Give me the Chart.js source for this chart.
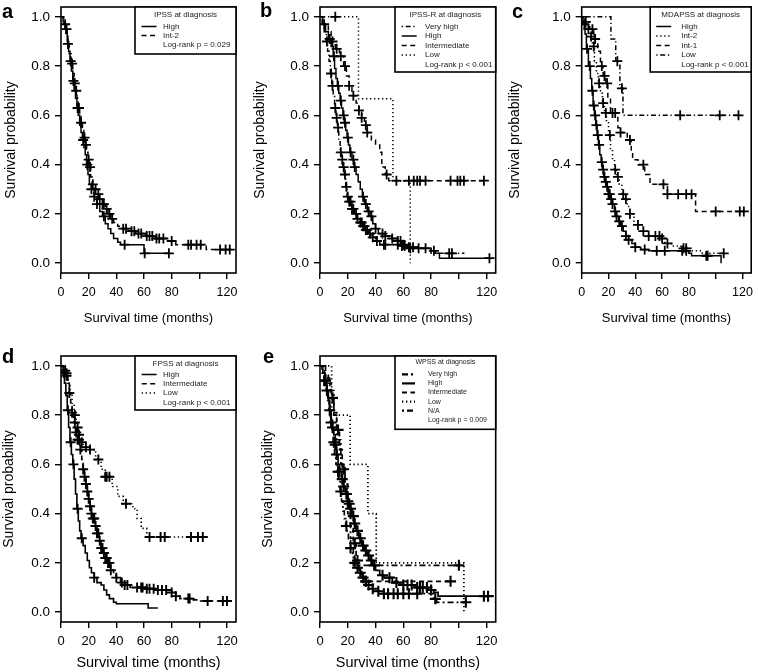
<!DOCTYPE html>
<html lang="en">
<head>
<meta charset="UTF-8">
<title>Survival by prognostic score at diagnosis</title>
<script src="https://cdn.jsdelivr.net/npm/chart.js@4.4.0/dist/chart.umd.min.js"></script>
<style>
  body { margin: 0; background: #fff; font-family: "Liberation Sans", Arial, sans-serif; }
  #fig { position: relative; width: 758px; height: 672px; overflow: hidden; background: #fff; }
  #fig canvas { position: absolute; }
  .tag { position: absolute; font-weight: bold; font-size: 20px; line-height: 20px; color: #000; }
</style>
</head>
<body>
<div id="fig">
  <canvas id="pa" width="250" height="330" style="left:0;top:0"></canvas>
  <canvas id="pb" width="260" height="330" style="left:250px;top:0"></canvas>
  <canvas id="pc" width="253" height="330" style="left:505px;top:0"></canvas>
  <canvas id="pd" width="250" height="342" style="left:0;top:330px"></canvas>
  <canvas id="pe" width="260" height="342" style="left:250px;top:330px"></canvas>
  <div class="tag" style="left:2px;top:1px">a</div>
  <div class="tag" style="left:260px;top:0">b</div>
  <div class="tag" style="left:512px;top:1px">c</div>
  <div class="tag" style="left:2px;top:346px">d</div>
  <div class="tag" style="left:263px;top:346px">e</div>
</div>

<script>
// axis ticks (100 has a tick mark but no label, as in the original)
const xTickValues = [0, 20, 40, 60, 80, 100, 120];
const xTickLabels = ['0', '20', '40', '60', '80', '', '120'];
const yTickValues = [0, 0.2, 0.4, 0.6, 0.8, 1.0];
const yTickLabels = ['0.0', '0.2', '0.4', '0.6', '0.8', '1.0'];

// KM steps are [months, survival after that time]; censor arrays are months only

// a - IPSS
const aHighSteps = [[0,1],[1.5,0.98],[3,0.95],[4.5,0.9],[5.5,0.86],[6.5,0.82],[7.5,0.78],[8.5,0.74],[9.5,0.7],[10.5,0.67],[11.5,0.63],[12.5,0.6],[13.5,0.56],[14.5,0.53],[15.5,0.5],[16.5,0.47],[17.5,0.44],[18.5,0.4],[19.5,0.36],[20.5,0.32],[22,0.3],[24,0.27],[26,0.24],[28,0.21],[30,0.19],[32,0.16],[34,0.14],[36,0.12],[38,0.1],[41,0.085],[43,0.075],[60,0.04],[78,0.04]];
const aHighCensor = [4,7,9,12,16,19,22,24,26,31,46,60.5,78];
const aInt2Steps = [[0,1],[2,0.97],[3.5,0.93],[5,0.89],[6,0.85],[7.5,0.81],[8.5,0.77],[9.5,0.73],[10.5,0.7],[11.5,0.67],[12.5,0.63],[13.5,0.6],[14.5,0.57],[15.5,0.54],[16.5,0.51],[17.5,0.48],[18.5,0.45],[19.5,0.42],[20.5,0.39],[21.5,0.35],[22.5,0.32],[24,0.3],[26,0.28],[28,0.26],[30,0.24],[32,0.22],[34,0.2],[36,0.18],[38,0.165],[41,0.15],[45,0.14],[49,0.13],[54,0.12],[61,0.11],[68,0.1],[77,0.09],[83,0.075],[105,0.055],[123,0.055]];
const aInt2Censor = [3,5,8,10,11,13,14.5,17,18,20,21,23,25,27,28,30,31,33,35,37,45,47,51,53,56,58,62,64,66,69,71,74,80,92,94,98,101,115,119,122];

// b - IPSS-R
const bVeryHighSteps = [[0,1],[1.5,0.97],[3,0.94],[4.5,0.9],[5.5,0.86],[6.5,0.82],[7.5,0.77],[8.5,0.72],[9.5,0.68],[10.5,0.63],[11.5,0.59],[12.5,0.55],[13.5,0.5],[14.5,0.45],[15.5,0.42],[16.5,0.39],[17.5,0.36],[18.5,0.31],[19.5,0.27],[21,0.25],[23,0.22],[25,0.2],[27,0.18],[29,0.165],[31,0.15],[33,0.135],[35,0.12],[37,0.105],[40,0.09],[43,0.075],[58,0.07],[63,0.06],[80,0.04],[104,0.04]];
const bVeryHighCensor = [5,8,9,11,12,13,15,16,17,18,19,20,21,22,23,24,26,27,29,30,31,32,33,34,36,38,41,46,47,56,59,61,65,93,95];
const bHighSteps = [[0,1],[2,0.97],[4,0.94],[6,0.91],[8,0.88],[9.5,0.84],[10.5,0.79],[11.5,0.75],[12.5,0.72],[13.5,0.69],[14.5,0.66],[15.5,0.63],[16.5,0.6],[17.5,0.57],[18.5,0.54],[19.5,0.51],[20.5,0.48],[21.5,0.45],[23,0.42],[24.5,0.39],[26,0.36],[27.5,0.33],[29,0.3],[30.5,0.27],[32,0.24],[34,0.21],[36,0.19],[38,0.16],[40,0.14],[42,0.12],[47,0.11],[52,0.1],[56,0.09],[60,0.075],[63,0.065],[70,0.06],[80,0.05],[83,0.04],[86,0.02],[123,0.02]];
const bHighCensor = [3,7,10,13,15,17,18,20,22,24,25,31,33,35,37,40,45,47,52,56,58,60,64,67,71,76,82,122];
const bIntermediateSteps = [[0,1],[3,0.97],[6,0.94],[8,0.9],[11,0.87],[14,0.84],[17,0.8],[19,0.76],[21,0.72],[23,0.68],[26,0.65],[28,0.62],[30,0.59],[32,0.56],[34,0.53],[37,0.5],[40,0.48],[43,0.45],[44.5,0.39],[47,0.36],[49.5,0.335],[119,0.335]];
const bIntermediateCensor = [9,12,15,18,21,24,28,30,33,34,48,55,64,67.5,70,72,76,94,99,101,103.6,118];
const bLowSteps = [[0,1],[27.7,0.667],[52.5,0.333],[65,0]];
const bLowCensor = [11];

// c - MDAPSS
const cHighSteps = [[0,1],[1,0.97],[2.5,0.93],[3.5,0.87],[5,0.8],[6.5,0.75],[7.5,0.7],[8.5,0.64],[9.5,0.6],[10.5,0.56],[11.5,0.52],[12.5,0.48],[13.5,0.44],[14.5,0.41],[15.5,0.38],[16.5,0.35],[17.5,0.33],[18.5,0.31],[20,0.28],[21.5,0.26],[23,0.24],[24.5,0.21],[26,0.19],[27.5,0.17],[29,0.15],[31,0.13],[33,0.11],[35,0.095],[37.5,0.08],[40,0.065],[44,0.055],[50,0.05],[80,0.04],[82,0.03],[104,0]];
const cHighCensor = [2,4,6,8,9,10,11,12,13,15,16,17,18,19,20,21,22,23,25,26,28,30,33,35,40,47,56,62,75,78,93,94];
const cInt2Steps = [[0,1],[2,0.98],[4,0.95],[6,0.92],[8,0.88],[9.5,0.82],[11,0.77],[12.5,0.73],[14,0.69],[15.5,0.65],[17,0.61],[18.5,0.57],[20,0.52],[21.5,0.46],[23,0.42],[24.5,0.38],[26,0.35],[28,0.32],[30,0.28],[32,0.26],[34,0.23],[36,0.2],[39,0.17],[42,0.155],[46,0.13],[50,0.11],[59,0.1],[62,0.08],[67,0.07],[74,0.06],[82,0.05],[90,0.04],[107,0.04]];
const cInt2Censor = [3,5,7,9,13,16,18,21,25,27,31,33,36,42,46,50,55,58,60,64,76,78,106];
const cInt1Steps = [[0,1],[3,0.98],[6,0.95],[9,0.91],[12,0.86],[14,0.8],[16,0.76],[18,0.73],[19.5,0.67],[21.5,0.61],[27,0.55],[29,0.53],[34,0.5],[37,0.45],[38,0.42],[42,0.4],[47,0.36],[51,0.32],[64,0.28],[85,0.21],[122,0.21]];
const cInt1Censor = [8,10,15,17,19,23,25,29,36,46,61,64,72,78,82,100,118,121];
const cLowSteps = [[0,1],[21.8,0.91],[25.4,0.82],[28.5,0.71],[30.8,0.6],[119,0.6]];
const cLowCensor = [26.6,30,73.5,103,117];

// d - FPSS
const dHighSteps = [[0,1],[1.5,0.97],[2.5,0.93],[3.5,0.88],[4.5,0.82],[5.5,0.75],[6.5,0.69],[7.5,0.64],[8.5,0.6],[9.5,0.54],[10.5,0.48],[11.5,0.42],[12.5,0.37],[13.5,0.33],[14.5,0.3],[16,0.27],[17.5,0.24],[19,0.21],[20.5,0.18],[22,0.16],[24,0.14],[26,0.12],[29,0.11],[31,0.09],[33,0.07],[35,0.055],[38,0.04],[40,0.034],[63,0.017],[70,0.017]];
const dHighCensor = [2,5,7,9,12,15,24];
const dIntermediateSteps = [[0,1],[2,0.98],[3.5,0.96],[5,0.93],[6,0.89],[7,0.85],[8,0.81],[9,0.77],[10.5,0.73],[12,0.7],[13.5,0.66],[15,0.62],[16,0.58],[17,0.55],[18,0.52],[19,0.49],[20,0.46],[21,0.43],[22,0.4],[23,0.38],[24.5,0.35],[26,0.32],[27.5,0.29],[29,0.26],[30.5,0.24],[32,0.22],[34,0.2],[36,0.17],[38,0.15],[40,0.14],[43,0.12],[46,0.11],[50,0.1],[60,0.095],[68,0.09],[80,0.08],[83,0.065],[86,0.055],[95,0.05],[100,0.045],[122,0.045]];
const dIntermediateCensor = [3,4,6,8,10,11,12,13,14,16,17,18,19,20,21,22,23,24,25,26,27,28,29,30,31,32,33,34,35,36,40,44,46,48,55,58,59,62,64,67,70,73,76,80,83,92,93,106,117,120];
const dLowSteps = [[0,1],[3,0.97],[5,0.93],[6.5,0.88],[8,0.84],[9.5,0.8],[11,0.75],[12.5,0.72],[14,0.69],[16,0.67],[21,0.66],[25,0.62],[29,0.58],[32,0.55],[37,0.51],[41,0.47],[45,0.44],[52,0.42],[55,0.38],[58,0.34],[62,0.305],[106,0.305]];
const dLowCensor = [4,10,12,13,15,18,21,27,32,33,35,47,64,72,75,94,99,102.5];

// e - WPSS
const eVeryHighSteps = [[0,1],[1.5,0.97],[3,0.94],[4.5,0.9],[5.5,0.86],[6.5,0.81],[7.5,0.77],[8.5,0.73],[9.5,0.69],[10.5,0.64],[11.5,0.6],[12.5,0.57],[13.5,0.53],[14.5,0.49],[15.5,0.45],[16.5,0.41],[17.5,0.38],[18.5,0.35],[19.5,0.32],[20.5,0.29],[22,0.26],[23.5,0.23],[25,0.2],[26.5,0.18],[28,0.16],[30,0.14],[32,0.125],[34,0.11],[37,0.095],[40,0.085],[44,0.075],[82,0.054],[84,0.04],[105,0.04]];
const eVeryHighCensor = [3,5,8,10,13,15,19,22,25,27,29,31,33,35,38,42,46,49,53,56,60,64,70,83,105];
const eHighSteps = [[0,1],[2,0.97],[3.5,0.94],[5,0.9],[6,0.86],[7,0.82],[8,0.78],[9,0.75],[10,0.72],[11,0.68],[12,0.64],[13,0.6],[14,0.57],[15.5,0.54],[17,0.51],[18.5,0.48],[20,0.45],[21.5,0.42],[23,0.39],[24.5,0.36],[26,0.33],[28,0.3],[30,0.27],[32,0.25],[34,0.23],[36,0.21],[38,0.19],[40,0.17],[43,0.15],[46,0.14],[52,0.12],[60,0.11],[68,0.1],[78,0.09],[82,0.08],[85,0.065],[125,0.065]];
const eHighCensor = [4,7,9,11,12,14,16,17,19,20,22,24,25,27,29,31,33,35,37,39,45,50,55,60,63,66,70,72,74,77,80,118,121];
const eIntermediateSteps = [[0,1],[3,0.97],[6,0.93],[8,0.87],[10,0.81],[12,0.74],[14,0.66],[16,0.58],[18,0.52],[20,0.44],[22,0.36],[24,0.28],[26,0.21],[28,0.17],[30,0.145],[32,0.125],[94,0.125]];
const eIntermediateCensor = [9,13,17,21,25,27,33,94];
const eLowSteps = [[0,1],[8.4,0.8],[21.7,0.6],[34.5,0.4],[40.5,0.2],[103.6,0]];
const eLowCensor = [];
const eNASteps = [[0,1],[4,0.95],[7,0.9],[10,0.8],[12,0.7],[15,0.6],[18,0.5],[20,0.4],[22,0.3],[24,0.19],[100,0.19]];
const eNACensor = [100];

const FONT = '"Liberation Sans", Arial, sans-serif';
const SOLID = [];
const DASHED = [5, 3.5];
const DOTTED = [1.3, 2.7];
const DOTDASH = [1.3, 2.7, 5, 2.7];
const TWODASH = [6, 3, 2, 3];
const DASHDOT = [2, 3, 6, 3];

function survAt(steps, t) {
  let s = steps[0][1];
  for (const p of steps) if (p[0] <= t) s = p[1];
  return s;
}

// box around the plot area, like R's bty="o"
const plotBox = {
  id: 'plotBox',
  afterDatasetsDraw(chart) {
    const { ctx, chartArea: a } = chart;
    ctx.save();
    ctx.strokeStyle = '#000';
    ctx.lineWidth = 1.6;
    ctx.strokeRect(a.left, a.top, a.right - a.left, a.bottom - a.top);
    ctx.restore();
  }
};

// boxed legend in the top right corner with title and p-value line
const kmLegend = {
  id: 'kmLegend',
  afterDraw(chart, args, o) {
    if (!o.title) return;
    const { ctx, chartArea: a } = chart;
    const x0 = a.right - o.w, y0 = a.top;
    ctx.save();
    ctx.fillStyle = '#fff';
    ctx.fillRect(x0, y0, o.w, o.h);
    ctx.strokeStyle = '#000';
    ctx.lineWidth = 1.6;
    ctx.strokeRect(x0, y0, o.w, o.h);
    ctx.font = o.size + 'px ' + FONT;
    ctx.fillStyle = '#222';
    ctx.textBaseline = 'middle';
    ctx.textAlign = 'center';
    ctx.fillText(o.title, x0 + o.w / 2, y0 + o.titleY);
    ctx.textAlign = 'left';
    const rows = o.items.concat([{ label: o.p }]);
    rows.forEach((it, i) => {
      const y = y0 + o.firstY + i * o.step;
      if (it.dash) {
        ctx.strokeStyle = '#000';
        ctx.lineWidth = o.lw;
        ctx.setLineDash(it.dash);
        ctx.beginPath();
        ctx.moveTo(x0 + o.lineX0, y);
        ctx.lineTo(x0 + o.lineX1, y);
        ctx.stroke();
        ctx.setLineDash([]);
      }
      ctx.fillText(it.label, x0 + o.textX, y);
    });
    ctx.restore();
  }
};

const panels = [
  { id: 'pa', yAxisW: 61, padTop: 7, padRight: 14, xAxisH: 57, tick: 12.5, yTick: 13.5, tickPad: 6.5, xTitle: 13, xTitlePad: 4.2, yTitlePad: 2.5, lw: 1.5, mark: 5, markW: 1.8,
    curves: [
      { steps: aHighSteps, censor: aHighCensor, dash: SOLID, label: 'High' },
      { steps: aInt2Steps, censor: aInt2Censor, dash: DASHED, label: 'Int-2' }
    ],
    legend: { title: 'IPSS at diagnosis', p: 'Log-rank p = 0.029', w: 101, h: 47, titleY: 8, firstY: 19.5, step: 9, size: 8, lineX0: 6.5, lineX1: 21.5, textX: 28, lw: 1.5 } },
  { id: 'pb', yAxisW: 70, padTop: 7, padRight: 14.3, xAxisH: 57, tick: 12.5, yTick: 13.5, tickPad: 6.5, xTitle: 13, xTitlePad: 4.2, yTitlePad: 1.6, lw: 1.5, mark: 5, markW: 1.8,
    curves: [
      { steps: bVeryHighSteps, censor: bVeryHighCensor, dash: DOTDASH, label: 'Very high' },
      { steps: bHighSteps, censor: bHighCensor, dash: SOLID, label: 'High' },
      { steps: bIntermediateSteps, censor: bIntermediateCensor, dash: DASHED, label: 'Intermediate' },
      { steps: bLowSteps, censor: bLowCensor, dash: DOTTED, label: 'Low' }
    ],
    legend: { title: 'IPSS-R at diagnosis', p: 'Log-rank p < 0.001', w: 100.7, h: 65, titleY: 8, firstY: 19.5, step: 9.5, size: 8, lineX0: 6.7, lineX1: 21.7, textX: 30, lw: 1.5 } },
  { id: 'pc', yAxisW: 76.7, padTop: 7, padRight: 1.3, xAxisH: 57, tick: 12.5, yTick: 13.5, tickPad: 6.5, xTitle: 13, xTitlePad: 4.2, yTitlePad: 1.6, lw: 1.5, mark: 5, markW: 1.8,
    curves: [
      { steps: cHighSteps, censor: cHighCensor, dash: SOLID, label: 'High' },
      { steps: cInt2Steps, censor: cInt2Censor, dash: DOTTED, label: 'Int-2' },
      { steps: cInt1Steps, censor: cInt1Censor, dash: DASHED, label: 'Int-1' },
      { steps: cLowSteps, censor: cLowCensor, dash: DOTDASH, label: 'Low' }
    ],
    legend: { title: 'MDAPSS at diagnosis', p: 'Log-rank p < 0.001', w: 101, h: 65, titleY: 8, firstY: 19.5, step: 9.5, size: 8, lineX0: 6, lineX1: 21, textX: 31, lw: 1.5 } },
  { id: 'pd', yAxisW: 61, padTop: 26, padRight: 14, xAxisH: 50, tick: 13, yTick: 13.5, tickPad: 6, xTitle: 14.5, xTitlePad: 0.3, yTitlePad: 1, lw: 1.6, mark: 5, markW: 1.9,
    curves: [
      { steps: dHighSteps, censor: dHighCensor, dash: SOLID, label: 'High' },
      { steps: dIntermediateSteps, censor: dIntermediateCensor, dash: DASHED, label: 'Intermediate' },
      { steps: dLowSteps, censor: dLowCensor, dash: DOTTED, label: 'Low' }
    ],
    legend: { title: 'FPSS at diagnosis', p: 'Log-rank p < 0.001', w: 101, h: 54, titleY: 7.5, firstY: 18.5, step: 9.3, size: 8, lineX0: 6.7, lineX1: 21.7, textX: 28, lw: 1.5 } },
  { id: 'pe', yAxisW: 70, padTop: 26, padRight: 14.3, xAxisH: 50, tick: 13, yTick: 13.5, tickPad: 6, xTitle: 14.5, xTitlePad: 0.3, yTitlePad: 9.6, lw: 1.7, mark: 5.5, markW: 2.1,
    curves: [
      { steps: eVeryHighSteps, censor: eVeryHighCensor, dash: TWODASH, label: 'Very high' },
      { steps: eHighSteps, censor: eHighCensor, dash: SOLID, label: 'High' },
      { steps: eIntermediateSteps, censor: eIntermediateCensor, dash: DASHED, label: 'Intermediate' },
      { steps: eLowSteps, censor: eLowCensor, dash: DOTTED, label: 'Low' },
      { steps: eNASteps, censor: eNACensor, dash: DASHDOT, label: 'N/A' }
    ],
    legend: { title: 'WPSS at diagnosis', p: 'Log-rank p = 0.009', w: 100.7, h: 73.3, titleY: 6, firstY: 18.3, step: 9.1, size: 7, lineX0: 7, lineX1: 20, textX: 33, lw: 2.2 } }
];

panels.forEach(P => {
  const datasets = [];
  P.curves.forEach(c => {
    datasets.push({
      type: 'line',
      data: c.steps.map(p => ({ x: p[0], y: p[1] })),
      stepped: true,
      borderColor: '#000',
      borderWidth: P.lw,
      borderDash: c.dash,
      pointRadius: 0,
      fill: false
    });
    datasets.push({
      type: 'scatter',
      data: c.censor.map(t => ({ x: t, y: survAt(c.steps, t) })),
      showLine: false,
      pointStyle: 'cross',
      pointRadius: P.mark,
      pointHoverRadius: P.mark,
      pointBorderWidth: P.markW,
      pointBorderColor: '#000',
      pointBackgroundColor: '#000'
    });
  });

  const tickGrid = { display: true, drawOnChartArea: false, drawTicks: true, tickLength: 6, color: '#000', lineWidth: 1.4 };

  new Chart(document.getElementById(P.id), {
    type: 'line',
    data: { datasets },
    plugins: [plotBox, kmLegend],
    options: {
      responsive: false,
      animation: false,
      events: [],
      layout: { padding: { top: P.padTop, right: P.padRight, left: 0, bottom: 0 } },
      plugins: {
        legend: { display: false },
        tooltip: { enabled: false },
        kmLegend: Object.assign({ items: P.curves.map(c => ({ label: c.label, dash: c.dash.length ? c.dash : [100, 0] })) }, P.legend)
      },
      scales: {
        x: {
          type: 'linear', min: 0, max: 126.5,
          afterBuildTicks: s => { s.ticks = xTickValues.map(v => ({ value: v })); },
          afterFit: s => { s.height = P.xAxisH; s.paddingLeft = 0; s.paddingRight = 0; },
          grid: tickGrid,
          border: { display: false },
          ticks: { color: '#000', font: { family: FONT, size: P.tick }, padding: P.tickPad, maxRotation: 0, autoSkip: false,
                   callback: (v, i) => xTickLabels[i] },
          title: { display: true, text: 'Survival time (months)', color: '#000', font: { family: FONT, size: P.xTitle }, padding: { top: 0, bottom: P.xTitlePad } }
        },
        y: {
          type: 'linear', min: -0.04, max: 1.04,
          afterBuildTicks: s => { s.ticks = yTickValues.map(v => ({ value: v })); },
          afterFit: s => { s.width = P.yAxisW; s.paddingTop = 0; s.paddingBottom = 0; },
          grid: tickGrid,
          border: { display: false },
          ticks: { color: '#000', font: { family: FONT, size: P.yTick }, padding: 5, autoSkip: false,
                   callback: (v, i) => yTickLabels[i] },
          title: { display: true, text: 'Survival probability', color: '#000', font: { family: FONT, size: 14 }, padding: { top: P.yTitlePad, bottom: 0 } }
        }
      }
    }
  });
});
</script>
</body>
</html>
